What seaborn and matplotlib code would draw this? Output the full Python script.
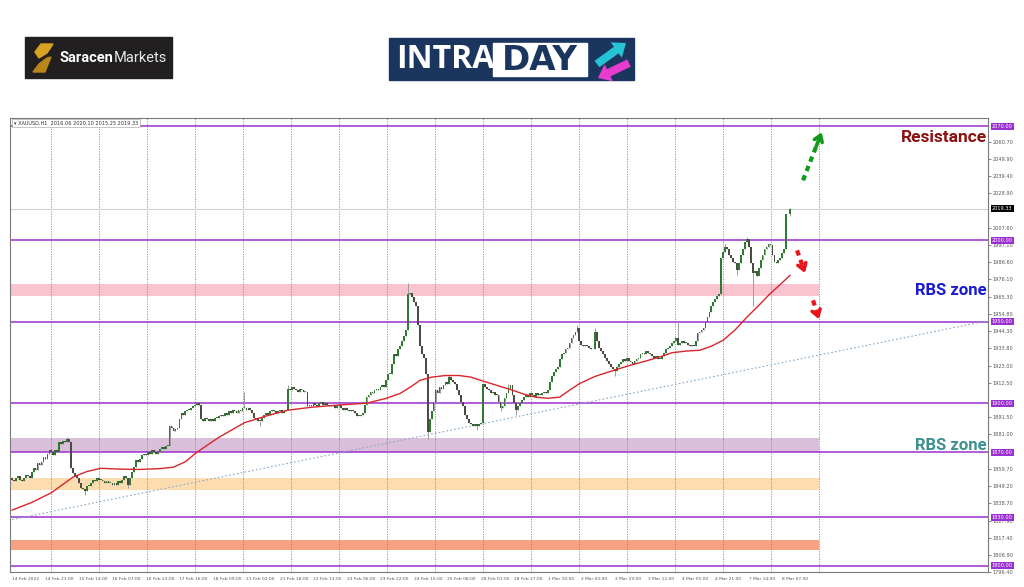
import numpy as np
import pandas as pd
import matplotlib.pyplot as plt
import matplotlib.patches as mpatches
import matplotlib.transforms as mtransforms
import seaborn as sns

sns.set_style("white")
plt.rcParams['font.family'] = ['DejaVu Sans']

# XAUUSD H1 closes, 14 Feb 2022 -> 8 Mar 2022 (one per hour)
closes = [
    1853, 1852, 1854, 1855, 1853, 1852, 1854, 1856, 1855, 1854,
    1858, 1860, 1859, 1863, 1862, 1864, 1867, 1866, 1869, 1871,
    1870, 1868, 1871, 1870, 1876, 1875, 1877, 1876, 1878, 1876,
    1860, 1857, 1855, 1854, 1851, 1848, 1847, 1846, 1849, 1849,
    1851, 1853, 1852, 1854, 1853, 1853, 1852, 1851, 1852, 1851,
    1851, 1850, 1851, 1850, 1852, 1851, 1853, 1855, 1854, 1850,
    1854, 1858, 1861, 1865, 1864, 1866, 1868, 1869, 1868, 1870,
    1869, 1871, 1870, 1869, 1870, 1872, 1873, 1872, 1874, 1874,
    1886, 1885, 1883, 1884, 1885, 1890, 1894, 1893, 1895, 1896,
    1896, 1897, 1898, 1899, 1900, 1899, 1890, 1889, 1891, 1890,
    1889, 1890, 1889, 1891, 1891, 1892, 1893, 1892, 1894, 1893,
    1895, 1894, 1896, 1895, 1894, 1896, 1895, 1897, 1897, 1896,
    1897, 1896, 1894, 1891, 1890, 1889, 1889, 1891, 1893, 1894,
    1893, 1895, 1896, 1895, 1894, 1895, 1896, 1894, 1895, 1896,
    1909, 1908, 1910, 1909, 1908, 1907, 1909, 1908, 1907, 1907,
    1898, 1899, 1898, 1900, 1899, 1898, 1900, 1901, 1899, 1900,
    1899, 1898, 1899, 1898, 1897, 1898, 1899, 1897, 1896, 1897,
    1896, 1895, 1896, 1895, 1894, 1892, 1892, 1893, 1894, 1899,
    1904, 1905, 1907, 1906, 1908, 1909, 1908, 1910, 1911, 1910,
    1914, 1918, 1918, 1924, 1930, 1929, 1933, 1935, 1938, 1941,
    1945, 1967, 1968, 1965, 1962, 1960, 1948, 1935, 1930, 1928,
    1918, 1882, 1890, 1895, 1901, 1908, 1906, 1910, 1909, 1911,
    1913, 1912, 1916, 1914, 1913, 1912, 1908, 1905, 1901, 1898,
    1893, 1890, 1888, 1887, 1886, 1887, 1886, 1887, 1888, 1912,
    1910, 1909, 1908, 1906, 1907, 1905, 1905, 1901, 1897, 1898,
    1903, 1906, 1909, 1911, 1905, 1900, 1896, 1898, 1900, 1902,
    1904, 1905, 1904, 1906, 1905, 1904, 1906, 1905, 1905, 1906,
    1907, 1906, 1908, 1913, 1917, 1919, 1921, 1922, 1927, 1930,
    1931, 1933, 1934, 1937, 1940, 1942, 1944, 1946, 1938, 1936,
    1935, 1936, 1935, 1934, 1933, 1933, 1944, 1938, 1934, 1932,
    1930, 1928, 1926, 1924, 1922, 1921, 1920, 1922, 1924, 1925,
    1927, 1926, 1928, 1926, 1925, 1924, 1926, 1927, 1928, 1930,
    1931, 1930, 1932, 1931, 1930, 1929, 1928, 1929, 1927, 1927,
    1929, 1931, 1933, 1934, 1935, 1937, 1938, 1940, 1936, 1937,
    1938, 1937, 1937, 1936, 1935, 1936, 1935, 1938, 1943, 1944,
    1945, 1946, 1950, 1953, 1956, 1960, 1962, 1964, 1966, 1967,
    1989, 1993, 1996, 1995, 1991, 1989, 1987, 1986, 1982, 1986,
    1991, 1995, 1999, 2001, 1996, 1986, 1980, 1981, 1978, 1983,
    1988, 1991, 1995, 1996, 1998, 1997, 1991, 1987, 1986, 1988,
    1989, 1992, 1995, 2016, 2016.06, 2019.33,
]
first_open = 1854.0
# wicks sticking out of the bodies
wick_high = {28: 1879.5, 118: 1907, 140: 1911, 201: 1973.7, 222: 1918, 252: 1912,
             287: 1948, 296: 1946, 338: 1950, 362: 1998, 373: 2002, 395: 2020.10}
wick_low = {37: 1843.5, 59: 1848, 126: 1886, 211: 1878, 236: 1883.5, 248: 1895,
            256: 1893, 306: 1917, 368: 1979, 376: 1960, 395: 2015.25}

# moving average (red), sampled along the curve
ma_bar = [0, 10, 20, 31, 38, 45, 55, 65, 75, 82, 88, 94, 105, 118, 130, 140, 152, 165,
          180, 190, 197, 203, 207, 213, 220, 227, 233, 238, 246, 254, 260, 266, 272,
          278, 283, 288, 296, 305, 313, 322, 329, 335, 342, 349, 355, 361, 367, 373,
          379, 385, 390, 395]
ma_val = [1834.3, 1839, 1845, 1854.6, 1858, 1860, 1859.5, 1859.3, 1859.8, 1860.7, 1864,
          1870, 1879, 1888, 1892.5, 1895.7, 1897.5, 1898.8, 1900, 1903, 1906, 1910.5,
          1914, 1916, 1917, 1917, 1916, 1914, 1911, 1908, 1905.5, 1903.7, 1903,
          1903.7, 1908, 1912, 1916.5, 1920, 1923, 1926, 1928.5, 1931, 1932, 1932.5,
          1935, 1938.7, 1945, 1952.8, 1960, 1967.5, 1973, 1978.6]

# dotted trend line
trend_bar = [0, 495]
trend_val = [1828.5, 1950.6]

levels = [2070, 2000, 1950, 1900, 1870, 1830, 1800]
zone_low = [1965.7, 1870.0, 1846.5, 1810.0]
zone_high = [1973.5, 1878.5, 1854.0, 1816.0]
last_price = 2019.33

price_ticks = [2060.70, 2049.90, 2039.40, 2028.90, 2007.60, 1997.10, 1986.60, 1976.10,
               1965.30, 1954.80, 1944.30, 1933.80, 1923.00, 1912.50, 1891.50, 1881.00,
               1859.70, 1849.20, 1838.70, 1827.90, 1817.40, 1806.90, 1796.40]
time_labels = ["14 Feb 2022", "14 Feb 21:00", "15 Feb 14:00", "16 Feb 07:00", "16 Feb 23:00",
               "17 Feb 16:00", "18 Feb 09:00", "21 Feb 02:00", "21 Feb 18:00", "22 Feb 13:00",
               "23 Feb 06:00", "23 Feb 22:00", "24 Feb 15:00", "25 Feb 08:00", "28 Feb 01:00",
               "28 Feb 17:00", "1 Mar 10:00", "2 Mar 03:00", "2 Mar 19:00", "3 Mar 12:00",
               "4 Mar 05:00", "4 Mar 21:00", "7 Mar 14:00", "8 Mar 07:00"]

# ---- candles table
df = pd.DataFrame({'close': closes})
df['open'] = df['close'].shift(1).fillna(first_open)
df['high'] = df[['open', 'close']].max(axis=1)
df['low'] = df[['open', 'close']].min(axis=1)
for k, v in wick_high.items():
    df.loc[k, 'high'] = v
for k, v in wick_low.items():
    df.loc[k, 'low'] = v
df['bar'] = df.index

fig = plt.figure(figsize=(10.24, 5.87), dpi=100)
ax = fig.add_axes([10 / 1024, 15 / 587, 978 / 1024, 454 / 587])
ax.set_xlim(-1, 495.4)
ax.set_ylim(1796.3, 2075.2)

purple = '#9b30d0'
zone_end = 409.6

# vertical dotted grid
for gx in np.arange(19.8, 411, 24.36):
    ax.axvline(gx, color='#8a8a8a', ls=(0, (1.5, 1.5)), lw=0.6, zorder=1)

# zones
zone_colors = ['#f9c3cf', '#d9bfd9', '#fddcb0', '#f7a383']
for lo, hi, c in zip(zone_low, zone_high, zone_colors):
    ax.fill_between([-1, zone_end], lo, hi, color=c, lw=0, zorder=0.5)

# levels and last price line
for lv in levels:
    ax.axhline(lv, color=purple, lw=1.1, zorder=2)
ax.axhline(last_price, color='#cfcfcf', lw=0.8, zorder=1.5)

# trend line and moving average
sns.lineplot(x=trend_bar, y=trend_val, ax=ax, color='#86a9c9', lw=0.8,
             linestyle=(0, (1.5, 2)), zorder=2)
sns.lineplot(x=ma_bar, y=ma_val, ax=ax, color='#d9262b', lw=1.0, zorder=5)

# candles
up = df['close'] >= df['open']
body = (df['close'] - df['open']).abs().clip(lower=0.5)
ax.vlines(df['bar'], df['low'], df['high'], color='#9c9c9c', lw=0.7, zorder=3)
ax.bar(df['bar'][up], body[up], bottom=df['open'][up], width=0.9,
       color='#2f7a33', lw=0, zorder=4)
ax.bar(df['bar'][~up], body[~up], bottom=df['close'][~up], width=0.9,
       color='#4b4b3f', lw=0, zorder=4)

# arrows
def dashed_arrow(x0, y0, x1, y1, color):
    fx = x0 + (x1 - x0) * 0.7
    fy = y0 + (y1 - y0) * 0.7
    ax.plot([x0, fx], [y0, fy], color=color, lw=3, ls=(0, (1.3, 1.1)),
            solid_capstyle='butt', zorder=6)
    ax.annotate('', xy=(x1, y1), xytext=(fx, fy),
                arrowprops=dict(arrowstyle='->,head_length=0.45,head_width=0.3',
                                color=color, lw=2.6, shrinkA=0, shrinkB=0), zorder=6)

dashed_arrow(401.5, 2036.9, 411, 2066.5, '#139a1b')
dashed_arrow(398.5, 1993.9, 402.5, 1980.0, '#e8161b')
dashed_arrow(406.6, 1963.2, 409.6, 1951.6, '#e8161b')

# annotations
bold_font = ['Roboto', 'DejaVu Sans']
ax.text(494.8, 2063.3, 'Resistance', color='#8c1111', fontsize=12.5, fontweight='bold',
        family=bold_font, ha='right', va='center', zorder=7)
ax.text(494.5, 1969.4, 'RBS zone', color='#1a1ad0', fontsize=12, fontweight='bold',
        family=bold_font, ha='right', va='center', zorder=7)
ax.text(494.5, 1874.3, 'RBS zone', color='#3f8f8f', fontsize=12, fontweight='bold',
        family=bold_font, ha='right', va='center', zorder=7)

# header
ax.text(0.004, 0.994, '\u25be XAUUSD,H1  2016.06 2020.10 2015.25 2019.33', transform=ax.transAxes,
        fontsize=3.6, color='#333333', va='top', ha='left', zorder=8,
        bbox=dict(boxstyle='square,pad=0.3', fc='white', ec='#999999', lw=0.4))

# axes look
for s in ax.spines.values():
    s.set_color('#7a7a7a')
    s.set_linewidth(0.8)
ax.yaxis.tick_right()
ax.set_yticks(price_ticks)
ax.set_yticklabels([f'{v:.2f}' for v in price_ticks])
ax.tick_params(axis='y', labelsize=3.6, colors='#555555', length=2, width=0.5, pad=1.5)
tick_bars = [0] + [17 + 17 * k for k in range(len(time_labels) - 1)]
ax.set_xticks(tick_bars)
ax.set_xticklabels(time_labels, ha='left')
ax.tick_params(axis='x', labelsize=3.2, colors='#555555', length=2, width=0.5, pad=1.5)
ax.set_xlabel('')
ax.set_ylabel('')

# highlighted price labels
tr = mtransforms.blended_transform_factory(ax.transAxes, ax.transData)
for lv in levels:
    ax.text(1.004, lv, f'{lv:.2f}', transform=tr, fontsize=3.6, color='white',
            va='center', ha='left', zorder=9, clip_on=False,
            bbox=dict(boxstyle='square,pad=0.2', fc=purple, ec='none'))
ax.text(1.004, last_price, f'{last_price:.2f}', transform=tr, fontsize=3.6, color='white',
        va='center', ha='left', zorder=9, clip_on=False,
        bbox=dict(boxstyle='square,pad=0.2', fc='black', ec='none'))

# ---- logos in pixel coordinates
lay = fig.add_axes([0, 0, 1, 1])
lay.set_xlim(0, 1024)
lay.set_ylim(587, 0)
lay.axis('off')
lay.patch.set_alpha(0)

lay.add_patch(mpatches.Rectangle((25, 37), 147, 41, color='#221f20'))
lay.add_patch(mpatches.Polygon([(41, 44), (53, 44), (47, 53), (39, 58), (35, 52)], color='#d8a322'))
lay.add_patch(mpatches.Polygon([(51, 57), (45, 72), (33, 72), (39, 64), (47, 58)], color='#b9861a'))
t1 = lay.text(59, 57.5, 'Saracen', color='white', fontsize=10.5, fontweight='bold',
              family=bold_font, ha='left', va='center')
fig.canvas.draw()
x_end = t1.get_window_extent().x1
lay.text(x_end + 0.5, 57.5, 'Markets', color='#e6e6e6', fontsize=10.5,
         family=bold_font, ha='left', va='center')

lay.add_patch(mpatches.Rectangle((389, 38), 245, 42, color='#1b365e'))
lay.add_patch(mpatches.Rectangle((493, 43), 94, 33, color='white'))
lay.text(396, 60, 'INTRA', color='white', fontsize=23, fontweight='bold',
         family=['Open Sans', 'DejaVu Sans'], ha='left', va='center')
lay.text(540, 60, 'DAY', color='#1b365e', fontsize=24.5, fontweight='bold',
         family=['DejaVu Sans'], ha='center', va='center')
lay.add_patch(mpatches.FancyArrow(597, 64, 29, -21, width=8, head_width=19, head_length=12,
                                  length_includes_head=True, color='#25c3d5', lw=0))
lay.add_patch(mpatches.FancyArrow(629, 63, -31, 15, width=8, head_width=19, head_length=12,
                                  length_includes_head=True, color='#e83ccf', lw=0))

fig.savefig('out.png', dpi=100)
